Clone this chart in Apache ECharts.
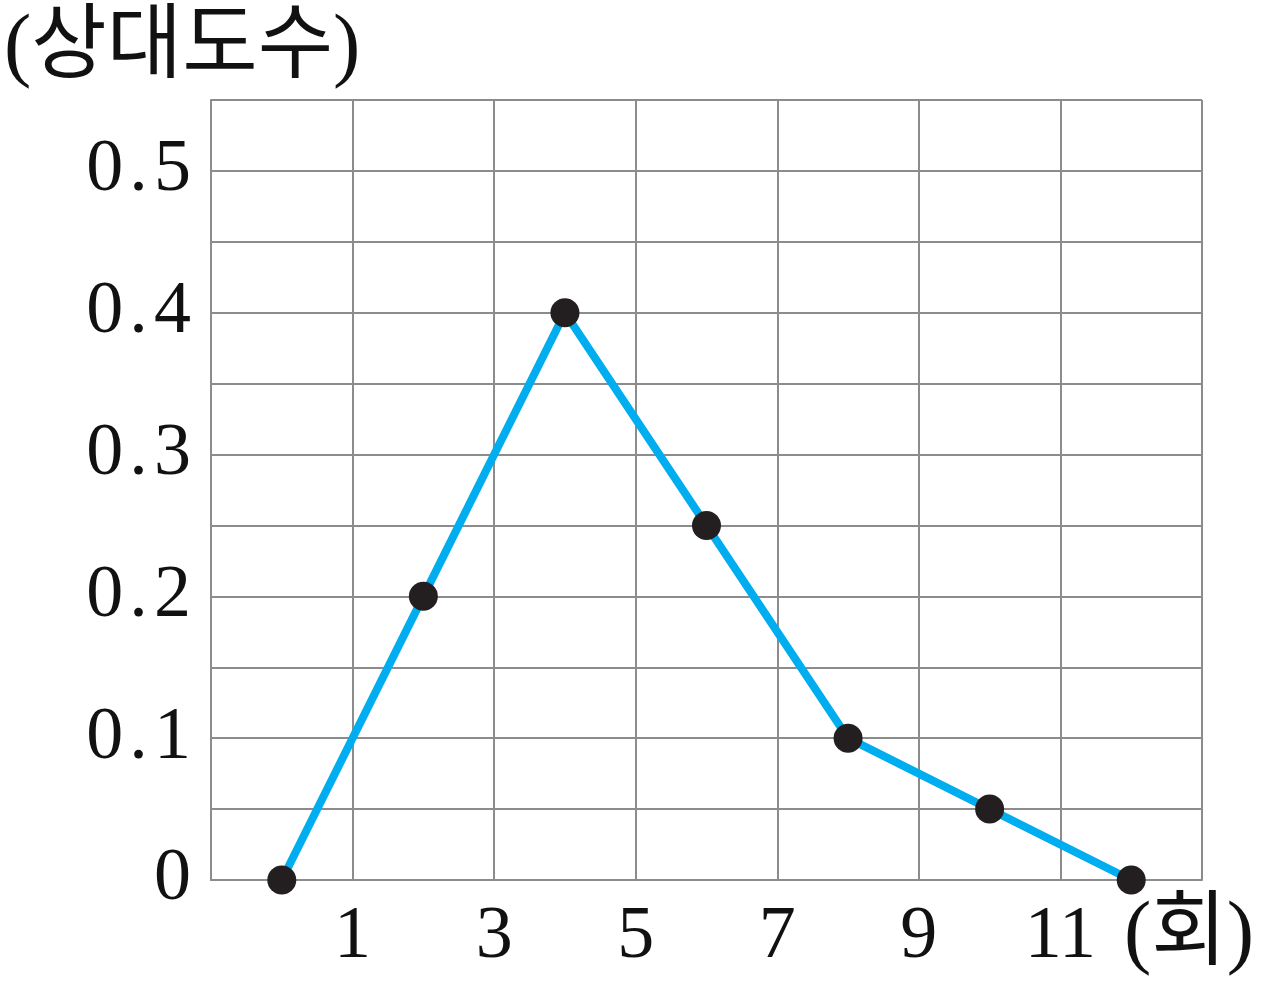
<!DOCTYPE html>
<html>
<head>
<meta charset="utf-8">
<script src="https://cdn.jsdelivr.net/npm/echarts@6/dist/echarts.min.js"></script>
<style>html,body{margin:0;padding:0;background:#fff}#c{width:1263px;height:987px}</style>
</head>
<body>
<div id="c"></div>
<script>
const xValues = [0, 2, 4, 6, 8, 10, 12];
const relFreq = [0, 0.2, 0.4, 0.25, 0.1, 0.05, 0];
const xGridValues = [-1, 1, 3, 5, 7, 9, 11, 13];
const xTickLabels = [1, 3, 5, 7, 9, 11];
const yTickLabels = [0, 0.1, 0.2, 0.3, 0.4, 0.5];
const yAxisTitle = '(상대도수)';
const xAxisTitle = '(회)';

const FONT = '"Liberation Serif", "Noto Sans CJK KR", serif';
const GRID = '#8c8c8c';

const chart = echarts.init(document.getElementById('c'));
chart.setOption({
  animation: false,
  backgroundColor: '#fff',
  grid: { left: 211, right: 61, top: 100, bottom: 107 },
  xAxis: {
    type: 'value', min: -1, max: 13,
    axisLine: { show: true, onZero: false, lineStyle: { color: GRID, width: 2 } },
    axisTick: { show: false, customValues: xGridValues },
    splitLine: { show: true, lineStyle: { color: GRID, width: 2 } },
    axisLabel: {
      margin: 21, fontFamily: FONT, fontSize: 74, color: '#111',
      customValues: xTickLabels,
      formatter: v => String(Math.round(v))
    }
  },
  yAxis: {
    type: 'value', min: 0, max: 0.55, interval: 0.05,
    axisLine: { show: true, onZero: false, lineStyle: { color: GRID, width: 2 } },
    axisTick: { show: false },
    splitLine: { show: true, lineStyle: { color: GRID, width: 2 } },
    axisLabel: {
      margin: 20, fontFamily: FONT, fontSize: 74, color: '#111',
      formatter: v => {
        const t = yTickLabels.find(y => Math.abs(y - v) < 1e-6);
        if (t === undefined) return '';
        return t === 0 ? '0' : t.toFixed(1).split('').join('\u200A');
      }
    }
  },
  graphic: [
    { type: 'text', left: 4, top: 8, style: { text: yAxisTitle, font: '82px ' + FONT, fill: '#111' } },
    { type: 'text', left: 1124, top: 895, style: { text: xAxisTitle, font: '82px ' + FONT, fill: '#111' } }
  ],
  series: [{
    type: 'line',
    data: xValues.map((x, i) => [x, relFreq[i]]),
    lineStyle: { color: '#00aeef', width: 8 },
    itemStyle: { color: '#231f20' },
    symbol: 'circle', symbolSize: 29, showSymbol: true,
    z: 5
  }]
});
</script>
</body>
</html>
